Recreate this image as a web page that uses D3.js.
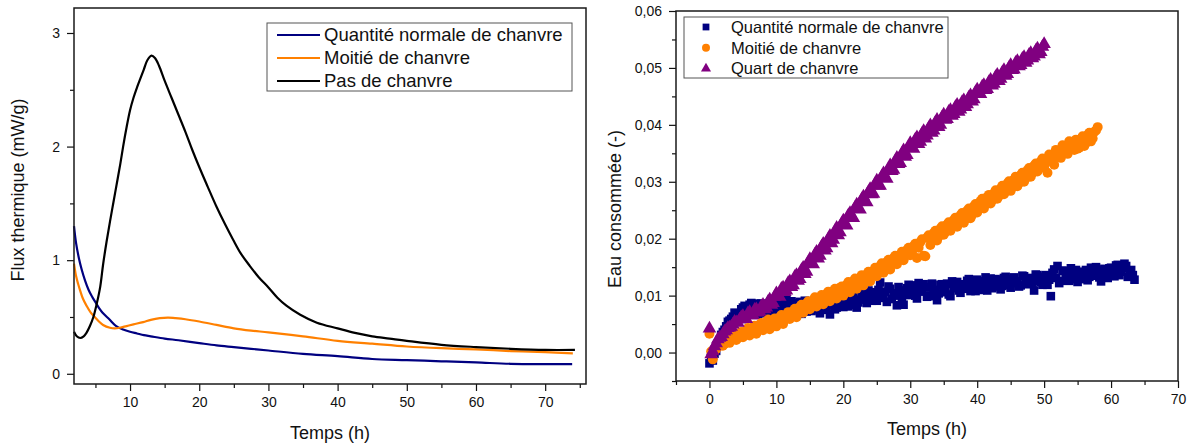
<!DOCTYPE html>
<html lang='fr'>
<head>
<meta charset='UTF-8'>
<title>Flux thermique et eau consommée</title>
<style>
  body { margin: 0; background: #fff; }
  svg { display: block; font-family: 'Liberation Sans', Arial, sans-serif; }
  .tick text { font-size: 14px; fill: #111; }
  .tick line { stroke: #111; stroke-width: 1.2px; }
</style>
</head>
<body>
<svg id='chart' width='1192' height='445'></svg>
<script src='https://d3js.org/d3.v7.min.js'></script>
<script>
// --- données du panneau gauche : flux thermique (mW/g) en fonction du temps (h)
var fluxNormale = [[1.9,1.30],[2.2,1.15],[2.6,1.02],[3,0.92],[3.5,0.82],[4,0.74],[4.5,0.68],[5,0.63],[5.5,0.58],[6,0.54],
  [7,0.48],[8,0.42],[9,0.39],[10,0.37],[11,0.355],[12,0.34],[13,0.33],[15,0.31],[17,0.295],[20,0.27],[22.5,0.25],
  [25,0.235],[27.5,0.22],[30,0.205],[35,0.175],[40,0.155],[45,0.13],[50,0.12],[55,0.11],[60,0.10],[65,0.088],[70,0.085],[73.9,0.085]]
var fluxMoitie = [[1.9,0.97],[2.2,0.86],[2.5,0.79],[2.8,0.73],[3.2,0.66],[3.7,0.6],[4.3,0.54],[4.9,0.5],[5.5,0.46],[6.1,0.43],
  [7.1,0.405],[7.8,0.40],[8.5,0.405],[9.5,0.42],[10.5,0.435],[11.9,0.455],[13,0.475],[14.3,0.49],[15.5,0.495],[16.5,0.49],
  [18,0.48],[20,0.46],[22.5,0.43],[25,0.40],[27.5,0.38],[30,0.365],[35,0.33],[40,0.29],[45,0.265],[50,0.24],[55,0.225],
  [60,0.215],[65,0.2],[70,0.19],[74,0.18]]
var fluxSans = [[1.9,0.37],[2.3,0.33],[2.8,0.315],[3.3,0.33],[3.7,0.36],[4.2,0.42],[4.7,0.5],[5.2,0.62],[5.7,0.77],[6.1,0.96],
  [6.6,1.16],[7.1,1.34],[7.6,1.51],[8.1,1.68],[8.6,1.85],[9,2.0],[9.5,2.17],[10,2.32],[10.5,2.43],[11,2.52],[11.5,2.6],
  [12,2.68],[12.5,2.76],[13.1,2.80],[13.6,2.78],[14.2,2.71],[15,2.58],[16,2.43],[17,2.28],[18,2.13],[19,1.97],
  [20,1.82],[21.2,1.65],[22.5,1.47],[23.7,1.32],[24.9,1.18],[26,1.06],[27.3,0.95],[28.6,0.85],[30,0.76],
  [31.3,0.67],[32.6,0.60],[34.6,0.52],[37,0.45],[40,0.40],[42.5,0.36],[45,0.33],[47.5,0.31],[50,0.29],[55,0.255],
  [60,0.235],[65,0.22],[70,0.21],[74.3,0.21]]
var fluxNoms = ['Quantité normale de chanvre', 'Moitié de chanvre', 'Pas de chanvre']
var fluxCouleurs = ['#000080', '#ff8000', '#000000']

// --- données du panneau droit : eau consommée (en millièmes)
// relevés à l'heure et demi-heure ...
var temps = [0,0.5,1,1.5,2,2.5,3,3.5,4,4.5,5,5.5,6,6.5,7,7.5,8,8.5,9,9.5,10,10.5,11,11.5,12,12.5,13,13.5,14,14.5,
  15,15.5,16,16.5,17,17.5,18,18.5,19,19.5,20,20.5,21,21.5,22,22.5,23,23.5,24,24.5,25,25.5,26,26.5,27,27.5,28,28.5,29,29.5,
  30,30.5,31,31.5,32,32.5,33,33.5,34,34.5,35,35.5,36,36.5,37,37.5,38,38.5,39,39.5,40,40.5,41,41.5,42,42.5,43,43.5,44,44.5,
  45,45.5,46,46.5,47,47.5,48,48.5,49,49.5,50,50.5,51,51.5,52,52.5,53,53.5,54,54.5,55,55.5,56,56.5,57,57.5,58,58.5,59,59.5,
  60,60.5,61,61.5,62,62.5,63,63.5]
// ... et au quart d'heure intermédiaire
var tempsDecale = [0.25,0.75,1.25,1.75,2.25,2.75,3.25,3.75,4.25,4.75,5.25,5.75,6.25,6.75,7.25,7.75,8.25,8.75,9.25,9.75,
  10.25,10.75,11.25,11.75,12.25,12.75,13.25,13.75,14.25,14.75,15.25,15.75,16.25,16.75,17.25,17.75,18.25,18.75,19.25,19.75,
  20.25,20.75,21.25,21.75,22.25,22.75,23.25,23.75,24.25,24.75,25.25,25.75,26.25,26.75,27.25,27.75,28.25,28.75,29.25,29.75,
  30.25,30.75,31.25,31.75,32.25,32.75,33.25,33.75,34.25,34.75,35.25,35.75,36.25,36.75,37.25,37.75,38.25,38.75,39.25,39.75,
  40.25,40.75,41.25,41.75,42.25,42.75,43.25,43.75,44.25,44.75,45.25,45.75,46.25,46.75,47.25,47.75,48.25,48.75,49.25,49.75,
  50.25,50.75,51.25,51.75,52.25,52.75,53.25,53.75,54.25,54.75,55.25,55.75,56.25,56.75,57.25,57.75,58.25,58.75,59.25,59.75,
  60.25,60.75,61.25,61.75,62.25,62.75,63.25]

var eauNormale = [-1.9,-1.4,0.3,2.2,3.6,4.6,5.6,6.3,6.9,6.5,
  7.9,6.6,8.4,7.2,8.6,7.6,6.9,8.3,4.6,7.5,
  8.9,7.3,8.2,9.4,7.6,8.5,7.0,8.9,8.1,7.2,
  9.0,7.6,8.3,6.9,8.8,7.8,6.7,9.1,7.9,8.6,
  8.0,9.6,8.4,10.0,7.9,9.3,10.2,8.7,9.8,10.6,
  9.1,12.3,10.1,8.9,11.2,10.4,8.3,10.9,8.4,11.3,
  10.1,11.8,9.5,10.9,12.0,9.8,11.4,10.3,9.2,11.9,
  10.6,12.1,9.9,11.5,12.4,10.5,11.8,12.6,10.8,11.3,
  12.8,11.0,12.2,10.9,13.0,11.6,12.7,11.1,13.1,12.3,
  11.4,13.2,12.5,11.8,13.4,12.0,12.9,10.9,13.6,12.4,
  13.3,11.9,9.9,14.6,15.2,12.6,14.3,13.0,14.8,12.9,
  12.4,14.2,13.6,12.7,14.9,13.5,14.4,12.5,14.7,13.1,
  14.9,13.4,15.4,14.2,15.6,13.3,14.5,12.8]
var eauNormale2 = [-0.9,-0.2,1.4,3.1,4.0,5.4,5.9,7.0,6.4,7.6,
  8.2,7.0,8.7,7.9,6.7,8.6,8.0,7.1,8.8,7.3,
  8.5,9.2,7.8,8.3,9.0,7.4,8.7,6.8,9.1,8.0,
  7.3,8.9,8.1,9.4,7.5,8.3,9.2,7.6,9.0,8.2,
  9.3,8.1,10.3,9.0,8.8,10.5,9.4,10.9,9.1,10.2,
  11.0,9.6,10.7,11.6,9.4,10.0,11.5,9.7,10.6,11.9,
  11.2,10.0,12.2,10.7,11.5,9.9,12.1,11.0,10.4,12.0,
  11.1,10.2,12.5,11.3,10.9,12.0,11.2,12.9,11.5,10.8,
  12.5,11.6,13.2,12.0,11.3,12.9,12.4,11.7,13.3,11.9,
  12.9,12.2,11.6,13.5,12.7,13.1,12.1,13.7,12.6,11.9,
  13.6,12.8,14.0,13.1,12.2,14.4,13.7,12.6,13.9,14.5,
  13.8,12.9,14.5,13.3,14.0,15.0,13.2,14.2,13.7,14.8,
  14.1,15.3,13.6,14.9,15.2,14.0,13.6]
var eauMoitie = [3.3,-1.2,0.6,1.6,1.2,2.5,1.7,3.1,2.2,3.4,
  2.7,3.9,3.0,4.4,3.3,4.9,3.9,5.3,4.1,5.6,
  4.6,6.2,5.0,6.6,5.9,7.3,6.2,8.0,7.0,8.6,
  7.6,9.2,8.1,9.6,8.5,10.3,9.0,10.8,9.5,11.4,
  10.0,11.9,10.6,12.5,11.2,13.1,11.8,13.7,12.5,14.3,
  13.4,15.2,14.0,15.9,14.6,16.6,15.5,17.2,16.2,18.0,
  17.1,18.7,16.6,19.4,17.0,20.2,18.9,21.0,19.7,21.8,
  20.7,22.5,21.4,23.3,22.1,24.1,22.8,24.9,23.6,25.7,
  24.6,26.6,25.3,27.3,26.2,28.0,27.0,28.8,27.8,29.7,
  28.4,30.4,29.2,31.2,30.0,32.0,30.9,32.8,31.8,33.6,
  32.6,31.6,34.3,33.0,35.1,34.2,35.9,34.9,36.7,35.6,
  35.8,37.5,36.3,38.2,37.1,38.8,39.6]
var eauMoitie2 = [0.2,0.3,1.0,2.1,1.5,2.8,2.2,3.3,2.5,3.6,
  3.2,4.3,3.6,4.7,4.0,5.2,4.3,5.8,4.7,6.0,
  5.4,6.6,5.7,7.1,6.4,7.7,6.9,8.4,7.5,9.0,
  8.1,9.7,8.6,10.1,9.2,10.7,9.7,11.2,10.2,11.6,
  11.0,12.4,11.5,13.0,12.1,13.6,12.8,14.2,13.4,14.9,
  14.0,15.7,14.9,16.3,15.6,17.0,16.3,17.7,17.0,18.4,
  17.6,19.1,18.4,19.9,16.9,20.6,19.6,21.4,20.4,22.2,
  21.2,22.9,22.0,23.7,22.7,24.5,23.4,25.3,24.2,26.1,
  25.2,27.0,26.0,27.7,26.7,28.5,27.5,29.3,28.3,30.1,
  29.0,30.9,29.8,31.6,30.6,32.4,31.5,33.2,32.3,34.1,
  33.3,34.8,33.6,35.6,34.6,36.4,35.3,37.1,36.1,37.4,
  36.0,38.0,36.8,38.6,37.6,39.0]
var eauQuart = [4.2,0.2,1.6,2.6,3.2,3.9,4.4,4.9,5.3,5.8,
  6.4,5.9,7.1,6.6,7.6,7.2,8.4,7.9,9.3,8.7,
  10.4,9.8,11.4,10.9,12.5,11.8,13.6,12.9,14.9,14.2,
  16.4,15.5,17.7,17.0,19.1,18.3,20.5,19.8,21.9,21.1,
  23.2,22.3,24.5,23.6,26.0,25.1,27.4,26.4,28.7,27.9,
  30.2,29.3,31.5,30.5,32.9,32.1,34.2,33.3,35.5,34.7,
  36.8,35.8,37.8,37.0,38.9,38.1,39.9,39.0,40.9,40.0,
  41.8,41.0,42.6,41.9,43.5,42.7,44.3,43.6,45.2,44.5,
  46.2,45.4,47.0,46.3,47.9,47.2,48.8,48.1,49.6,48.9,
  50.5,49.7,51.2,50.5,51.9,51.3,52.6,52.0,53.4,52.8,
  54.2]
var eauQuart2 = [-0.3,1.1,2.3,2.7,3.7,4.3,4.5,5.4,5.2,6.2,
  6.0,6.9,6.5,7.5,7.0,8.1,7.6,8.9,8.4,9.8,
  9.9,11.2,10.6,12.2,11.5,13.3,12.6,14.5,13.8,15.8,
  15.8,17.2,16.5,18.6,17.9,19.9,19.2,21.3,20.6,22.6,
  22.5,24.1,23.8,25.4,25.2,26.9,26.5,28.2,27.8,29.6,
  29.3,30.9,30.7,32.2,31.9,33.6,33.1,34.9,34.4,36.1,
  35.9,37.4,36.6,38.4,37.6,39.4,38.6,40.4,39.6,41.3,
  40.9,42.3,41.6,43.1,42.3,44.0,43.1,44.8,44.1,45.7,
  45.4,46.7,46.1,47.5,46.9,48.4,47.7,49.2,48.6,50.0,
  49.6,50.9,50.3,51.6,50.9,52.3,51.7,53.0,52.4,53.7]
var eauNoms = ['Quantité normale de chanvre', 'Moitié de chanvre', 'Quart de chanvre']
var eauCouleurs = ['#000080', '#ff8000', '#800080']

var svg = d3.select('#chart')

// cadre + graduations (majeures avec texte, mineures sans)
function drawAxes (x, y, xMajor, xMinor, yMajor, yMinor, yFmt) {
  var g = svg.append('g')
  var x0 = x.range()[0], x1 = x.range()[1]
  var yb = y.range()[0], yt = y.range()[1]
  g.append('g').attr('transform', 'translate(0,' + yb + ')')
    .call(d3.axisBottom(x).tickValues(xMinor).tickSize(4).tickFormat(''))
  g.append('g').attr('transform', 'translate(0,' + yb + ')')
    .call(d3.axisBottom(x).tickValues(xMajor).tickSize(7).tickPadding(6).tickFormat(d3.format('d')))
  g.append('g').attr('transform', 'translate(' + x0 + ',0)')
    .call(d3.axisLeft(y).tickValues(yMinor).tickSize(4).tickFormat(''))
  g.append('g').attr('transform', 'translate(' + x0 + ',0)')
    .call(d3.axisLeft(y).tickValues(yMajor).tickSize(7).tickPadding(7).tickFormat(yFmt))
  g.selectAll('.domain').remove()
  g.append('rect')
    .attr('x', x0).attr('y', yt).attr('width', x1 - x0).attr('height', yb - yt)
    .attr('fill', 'none').attr('stroke', '#1a1a1a').attr('stroke-width', 1.5)
}

function label (txt, cx, cy, rot) {
  svg.append('text')
    .attr('transform', 'translate(' + cx + ',' + cy + ')' + (rot ? ' rotate(-90)' : ''))
    .attr('text-anchor', 'middle').attr('dy', '0.35em')
    .style('font-size', '18px').style('fill', '#111')
    .text(txt)
}

// ---- panneau gauche
var xL = d3.scaleLinear().domain([1.9, 75.9]).range([74, 586])
var yL = d3.scaleLinear().domain([-0.09, 3.22]).range([384, 8])

var line = d3.line().x(function (d) { return xL(d[0]) }).y(function (d) { return yL(d[1]) })
  .curve(d3.curveCatmullRom.alpha(0.5))
var fluxSeries = [fluxNormale, fluxMoitie, fluxSans]
fluxSeries.forEach(function (s, i) {
  svg.append('path').datum(s)
    .attr('d', line)
    .attr('fill', 'none')
    .attr('stroke', fluxCouleurs[i])
    .attr('stroke-width', 2.2)
})

drawAxes(xL, yL, [10, 20, 30, 40, 50, 60, 70], [5, 15, 25, 35, 45, 55, 65, 75],
  [0, 1, 2, 3], [0.5, 1.5, 2.5], d3.format('d'))

var legL = svg.append('g')
legL.append('rect').attr('x', 267).attr('y', 23).attr('width', 305).attr('height', 68)
  .attr('fill', '#fff').attr('stroke', '#555').attr('stroke-width', 1)
fluxNoms.forEach(function (n, i) {
  var yy = 35 + i * 23
  legL.append('line').attr('x1', 277).attr('x2', 320).attr('y1', yy).attr('y2', yy)
    .attr('stroke', fluxCouleurs[i]).attr('stroke-width', 2)
  legL.append('text').attr('x', 324).attr('y', yy).attr('dy', '0.35em')
    .style('font-size', '18.5px').style('fill', '#111').text(n)
})

label('Flux thermique (mW/g)', 18, 190, true)
label('Temps (h)', 330, 433, false)

// ---- panneau droit
var xR = d3.scaleLinear().domain([-5, 70]).range([676, 1178])
var yR = d3.scaleLinear().domain([-5, 60]).range([381, 11])

var symboles = [d3.symbolSquare, d3.symbolCircle, d3.symbolTriangle]
var tailles = [74, 78, 80]
var eauSeries = [[eauNormale, eauNormale2], [eauMoitie, eauMoitie2], [eauQuart, eauQuart2]]
eauSeries.forEach(function (s, i) {
  var pts = s[0].map(function (v, j) { return [temps[j], v] })
    .concat(s[1].map(function (v, j) { return [tempsDecale[j], v] }))
  var sym = d3.symbol().type(symboles[i]).size(tailles[i])
  svg.append('g').selectAll('path').data(pts).join('path')
    .attr('d', sym)
    .attr('transform', function (d) { return 'translate(' + xR(d[0]) + ',' + yR(d[1]) + ')' })
    .attr('fill', eauCouleurs[i])
})

drawAxes(xR, yR, [0, 10, 20, 30, 40, 50, 60, 70], [-5, 5, 15, 25, 35, 45, 55, 65],
  [0, 10, 20, 30, 40, 50, 60], [-5, 5, 15, 25, 35, 45, 55],
  function (d) { return (d / 1000).toFixed(2).replace('.', ',') })

var legR = svg.append('g')
legR.append('rect').attr('x', 684).attr('y', 17).attr('width', 264).attr('height', 61)
  .attr('fill', '#fff').attr('stroke', '#555').attr('stroke-width', 1)
eauNoms.forEach(function (n, i) {
  var yy = 27 + i * 20.8
  legR.append('path')
    .attr('d', d3.symbol().type(symboles[i]).size([46, 50, 44][i]))
    .attr('transform', 'translate(706,' + yy + ')')
    .attr('fill', eauCouleurs[i])
  legR.append('text').attr('x', 731).attr('y', yy).attr('dy', '0.35em')
    .style('font-size', '16.5px').style('fill', '#111').text(n)
})

label('Eau consommée (-)', 615, 209, true)
label('Temps (h)', 927, 429, false)
</script>
</body>
</html>
